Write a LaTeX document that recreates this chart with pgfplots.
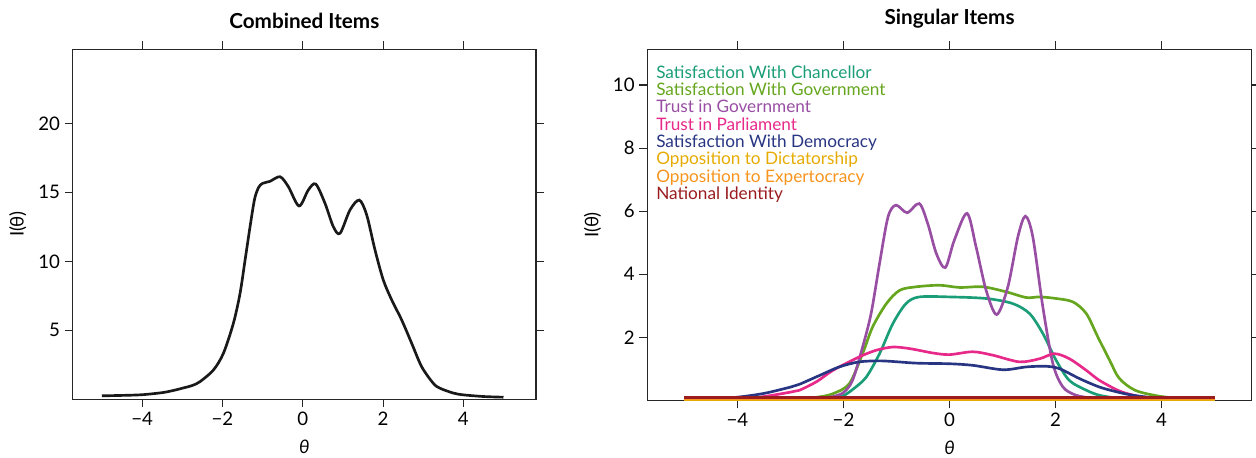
\documentclass[border=0pt]{standalone}
\usepackage{fontspec}
\setmainfont{Lato}
\usepackage{pgfplots}
\pgfplotsset{compat=1.18}
\definecolor{cChan}{HTML}{1B9E77}
\definecolor{cSGov}{HTML}{66A61E}
\definecolor{cTGov}{HTML}{984EA3}
\definecolor{cTPar}{HTML}{E7298A}
\definecolor{cDem}{HTML}{283583}
\definecolor{cDict}{HTML}{E6AB02}
\definecolor{cExp}{HTML}{F7941D}
\definecolor{cNat}{HTML}{9A1C1F}
\pgfplotsset{
  myax/.style={
    scale only axis,
    axis line style={black!85, line width=0.8pt},
    tick style={black!85, line width=0.8pt},
    tick align=outside,
    major tick length=6pt,
    xtick pos=both, ytick pos=both,
    xticklabel pos=lower, yticklabel pos=left,
    ticklabel style={font=\fontsize{14}{16}\selectfont},
    label style={font=\fontsize{14}{16}\selectfont},
    title style={font=\fontsize{15.5}{18}\selectfont\bfseries, yshift=6pt},
    xlabel style={yshift=-4pt},
    ylabel style={yshift=2pt},
    xtick={-4,-2,0,2,4},
    xticklabels={−4,−2,0,2,4},
    ymin=0,
    every axis plot/.append style={line width=2pt, smooth, tension=0.5},
    /pgf/number format/assume math mode=true,
    xlabel={\textit{θ}},
    ylabel={I(θ)},
  }
}
\begin{document}
\begin{tikzpicture}
\useasboundingbox (0,0) rectangle (942pt,342.75pt);
\begin{axis}[myax,
  at={(54.5pt,43.3pt)}, anchor=south west,
  width=347.5pt, height=262.6pt,
  xmin=-5.73, xmax=5.81,
  ymax=25.38,
  ytick={5,10,15,20},
  title={Combined Items},
]
\addplot[black!90] coordinates {
(-5,0.25)(-4.5,0.28)(-4,0.33)(-3.5,0.48)(-3.25,0.62)(-3.0,0.8)(-2.75,1.0)
(-2.557,1.28)(-2.225,2.12)(-1.976,3.33)(-1.727,5.51)(-1.561,7.68)(-1.436,10.09)
(-1.312,12.51)(-1.2,14.5)(-1.1,15.35)(-1.0,15.65)(-0.814,15.8)(-0.565,16.13)(-0.358,15.41)
(-0.092,14.01)(0.139,15.17)(0.324,15.6)(0.555,14.2)(0.762,12.51)(0.929,12.03)
(1.177,13.72)(1.409,14.44)(1.593,13.36)(1.80,10.82)(2.007,8.64)(2.216,7.2)
(2.464,5.75)(2.713,4.06)(2.962,2.36)(3.25,1.16)(3.418,0.8)(3.75,0.45)(4,0.32)
(4.5,0.2)(5,0.15)};
\end{axis}
\begin{axis}[myax,
  at={(485.5pt,42.5pt)}, anchor=south west,
  width=453.3pt, height=263.2pt,
  xmin=-5.7, xmax=5.7,
  ymax=11.13,
  ytick={2,4,6,8,10},
  title={Singular Items},
  legend style={at={(0,1)}, anchor=north west, draw=none, fill=none,
    font=\fontsize{12.9}{13}\selectfont, row sep=0pt,
    nodes={inner sep=0pt, text height=9.5pt, text depth=3.5pt},
    xshift=3.5pt, yshift=-10pt},
  legend cell align=left,
  legend image code/.code={},
]
\addplot[cChan] coordinates {
(-5,0)(-3,0.01)(-2.5,0.04)(-2.2,0.08)(-2.0,0.15)(-1.8,0.38)(-1.57,0.74)(-1.32,1.48)
(-1.07,2.43)(-0.82,3.07)(-0.57,3.28)(0,3.28)(0.69,3.23)(1.19,3.07)(1.51,2.75)
(1.76,2.12)(2.01,1.27)(2.26,0.63)(2.58,0.32)(2.83,0.16)(3.2,0.06)(3.5,0.03)(4,0.01)(5,0)};
\addlegendentry{\textcolor{cChan}{Satisfaction With Chancellor}}
\addplot[cSGov] coordinates {
(-5,0)(-4,0.005)(-3,0.03)(-2.5,0.1)(-2.2,0.21)(-1.89,0.53)(-1.64,1.48)(-1.45,2.33)
(-1.19,3.07)(-0.94,3.49)(-0.63,3.6)(-0.19,3.65)(0.19,3.58)(0.63,3.6)(1.07,3.44)
(1.45,3.26)(1.70,3.28)(2.01,3.23)(2.33,3.12)(2.58,2.75)(2.80,2.0)(3.02,1.27)
(3.2,0.7)(3.5,0.32)(3.96,0.13)(4.5,0.04)(5,0.01)};
\addlegendentry{\textcolor{cSGov}{Satisfaction With Government}}
\addplot[cTGov] coordinates {
(-5,0)(-4,0)(-3,0.01)(-2.5,0.05)(-2.2,0.12)(-2.0,0.25)(-1.83,0.63)(-1.64,1.69)
(-1.48,2.75)(-1.32,4.34)(-1.16,5.82)(-1.01,6.19)(-0.80,5.95)(-0.57,6.24)(-0.41,5.6)
(-0.25,4.66)(-0.08,4.21)(0.09,5.08)(0.33,5.93)(0.50,4.87)(0.69,3.49)(0.89,2.72)
(1.10,3.6)(1.29,5.19)(1.43,5.84)(1.57,5.19)(1.76,2.96)(1.95,1.16)(2.14,0.42)
(2.39,0.16)(2.7,0.07)(3,0.03)(4,0.01)(5,0)};
\addlegendentry{\textcolor{cTGov}{Trust in Government}}
\addplot[cTPar] coordinates {
(-5,0.0)(-4,0.03)(-3.5,0.12)(-3.0,0.26)(-2.83,0.32)(-2.5,0.6)(-2.2,0.95)(-1.7,1.38)
(-1.38,1.59)(-1.07,1.69)(-0.75,1.64)(-0.31,1.5)(0,1.45)(0.44,1.54)(0.82,1.43)
(1.32,1.22)(1.70,1.32)(1.98,1.48)(2.26,1.32)(2.58,0.95)(2.83,0.63)(3.2,0.3)
(3.5,0.15)(3.77,0.08)(4.3,0.03)(5,0.01)};
\addlegendentry{\textcolor{cTPar}{Trust in Parliament}}
\addplot[cDem] coordinates {
(-5,0.01)(-4.5,0.04)(-4,0.1)(-3.5,0.22)(-3.0,0.42)(-2.83,0.51)(-2.45,0.79)(-2.08,1.06)
(-1.70,1.22)(-1.26,1.25)(-0.63,1.18)(0,1.16)(0.44,1.11)(1.01,0.97)(1.45,1.06)
(1.82,1.08)(2.08,1.0)(2.45,0.69)(2.83,0.42)(3.2,0.25)(3.5,0.15)(4,0.06)(4.5,0.03)(5,0.01)};
\addlegendentry{\textcolor{cDem}{Satisfaction With Democracy}}
\addplot[cDict] coordinates {(-5,0.02)(-2.5,0.02)(0,0.02)(2.5,0.02)(5,0.02)};
\addlegendentry{\textcolor{cDict}{Opposition to Dictatorship}}
\addplot[cExp] coordinates {(-5,0.05)(-2.5,0.05)(0,0.05)(2.5,0.05)(5,0.05)};
\addlegendentry{\textcolor{cExp}{Opposition to Expertocracy}}
\addplot[cNat] coordinates {(-5,0.1)(-2.5,0.1)(0,0.1)(2.5,0.1)(5,0.1)};
\addlegendentry{\textcolor{cNat}{National Identity}}
\end{axis}
\end{tikzpicture}
\end{document}
